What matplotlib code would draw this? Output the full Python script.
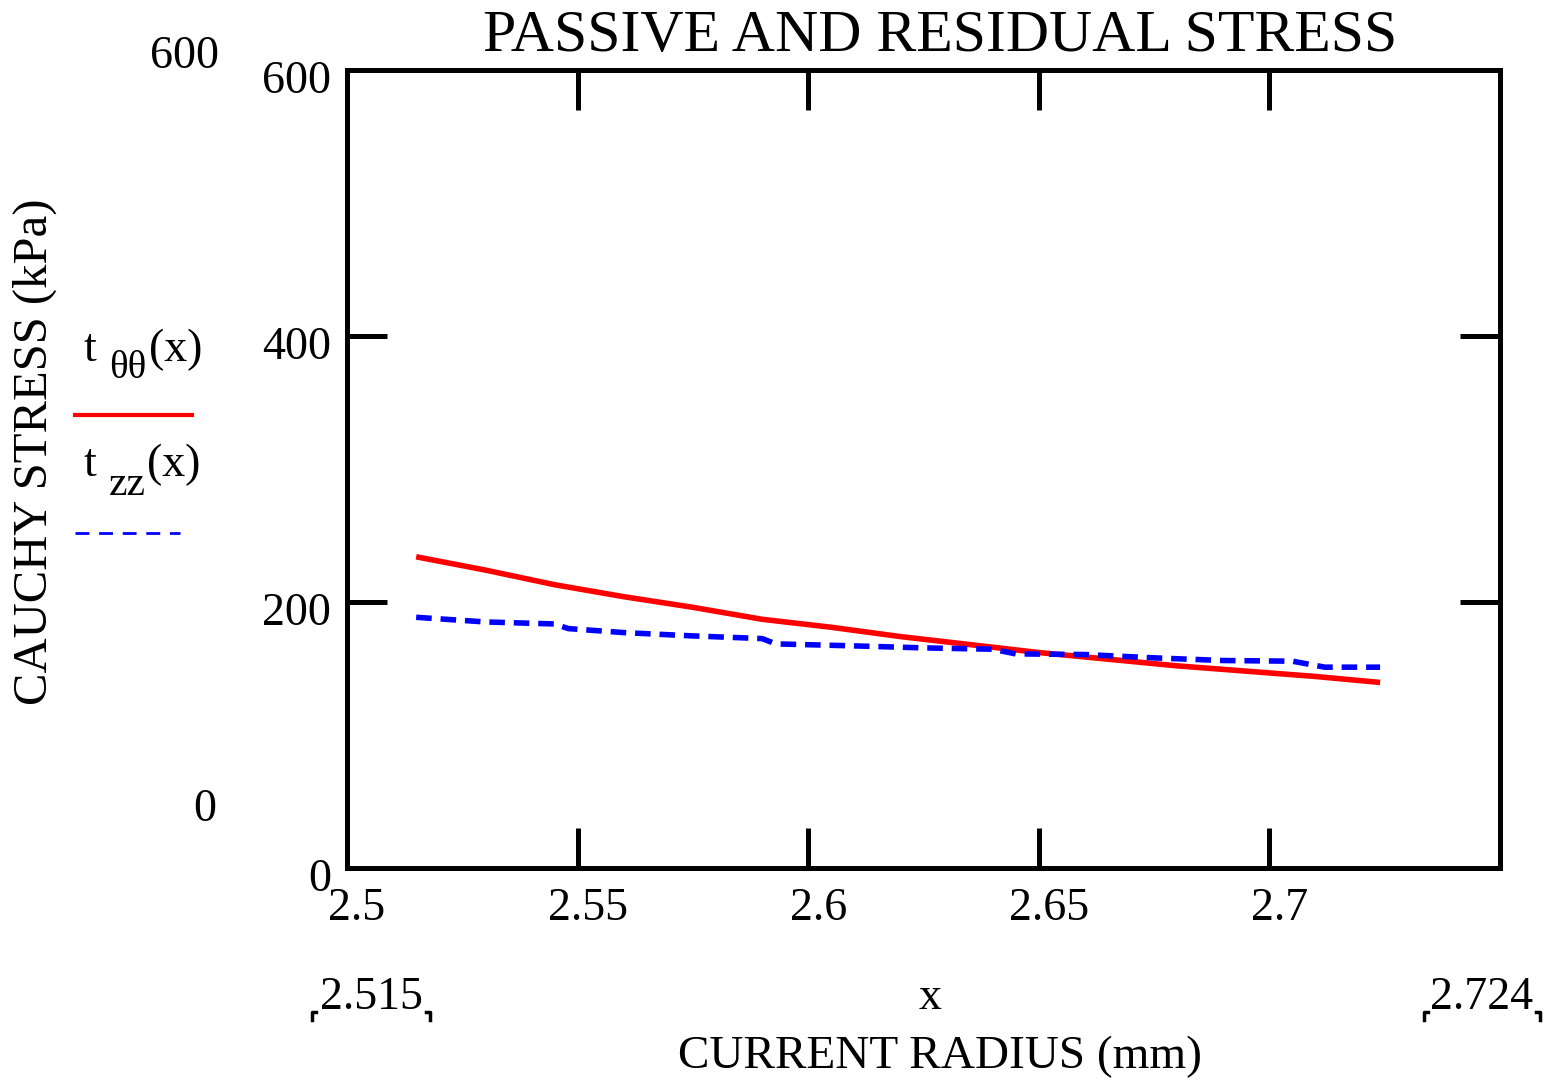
import matplotlib
matplotlib.use("Agg")
import matplotlib.pyplot as plt
from matplotlib.lines import Line2D
from matplotlib.transforms import ScaledTranslation

plt.rcParams['font.family'] = ['Liberation Serif', 'DejaVu Serif']

# ---- data ----
x_theta = [2.515, 2.53, 2.545, 2.56, 2.575, 2.59, 2.605, 2.62, 2.635, 2.65,
           2.665, 2.68, 2.695, 2.71, 2.724]
t_theta = [234, 224, 213, 204, 196, 187, 181, 174, 168, 162,
           157, 152, 148, 144, 139.5]

x_zz = [2.515, 2.53, 2.545, 2.548, 2.56, 2.575, 2.59, 2.593, 2.61, 2.625,
        2.64, 2.645, 2.66, 2.675, 2.69, 2.705, 2.712, 2.724]
t_zz = [188.5, 185, 183.5, 180, 177, 174.5, 172.5, 168.5, 167, 165.5,
        164.5, 161, 160.5, 158, 156, 155.5, 151, 151]

xticks = [2.5, 2.55, 2.6, 2.65, 2.7]
xtick_labels = ['2.5', '2.55', '2.6', '2.65', '2.7']
yticks = [0, 200, 400, 600]
ytick_labels = ['0', '200', '400', '600']

W, H = 1550, 1083
fig = plt.figure(figsize=(W / 100, H / 100), dpi=100)
fx = lambda px: px / W
fy = lambda py: 1 - py / H

ax = fig.add_axes([fx(347), fy(868), (1500 - 347) / W, (868 - 70) / H])
ax.plot(x_theta, t_theta, color='#ff0000', lw=4.0, solid_capstyle='butt')
ax.plot(x_zz, t_zz, color='#0000ff', lw=4.0, linestyle=(0, (2.8, 1.6)))
ax.set_xlim(2.5, 2.75)
ax.set_ylim(0, 600)

for s in ax.spines.values():
    s.set_linewidth(3.6)
ax.set_xticks(xticks)
ax.set_xticklabels(xtick_labels)
ax.set_yticks(yticks)
ax.set_yticklabels(ytick_labels)
ax.tick_params(axis='both', direction='in', length=29, width=3.6,
               labelsize=33, pad=10, colors='black')
ax.tick_params(axis='x', top=True, pad=14)
ax.tick_params(axis='y', right=True)
for lab in ax.get_xticklabels():
    lab.set_transform(lab.get_transform() + ScaledTranslation(0.1, 0, fig.dpi_scale_trans))
for lab in ax.get_yticklabels():
    lab.set_transform(lab.get_transform() + ScaledTranslation(-0.02, -0.07, fig.dpi_scale_trans))

# ---- Mathcad-style annotations ----
fig.text(fx(940), fy(37), 'PASSIVE AND RESIDUAL STRESS', fontsize=43,
         ha='center', va='center')
fig.text(fx(35), fy(452), 'CAUCHY STRESS (kPa)', fontsize=35, rotation=90,
         ha='center', va='center')
fig.text(fx(940), fy(1057), 'CURRENT RADIUS (mm)', fontsize=34,
         ha='center', va='center')
fig.text(fx(185), fy(57), '600', fontsize=33, ha='center', va='center')
fig.text(fx(205), fy(810), '0', fontsize=33, ha='center', va='center')
fig.text(fx(371), fy(998), '2.515', fontsize=33, ha='center', va='center')
fig.text(fx(930), fy(998), 'x', fontsize=33, ha='center', va='center')
fig.text(fx(1482), fy(998), '2.724', fontsize=33, ha='center', va='center')

# small corner brackets around the limits
for xl, xr in [(312, 430), (1424, 1540)]:
    fig.add_artist(Line2D([fx(xl + 4), fx(xl), fx(xl)], [fy(1012), fy(1012), fy(1020)],
                          color='black', lw=2.5))
    fig.add_artist(Line2D([fx(xr - 4), fx(xr), fx(xr)], [fy(1012), fy(1012), fy(1020)],
                          color='black', lw=2.5))

# legend (Mathcad style: label above line)
fig.text(fx(84), fy(350), 't', fontsize=33, ha='left', va='center')
fig.text(fx(109), fy(368), 'θθ', fontsize=28, ha='left', va='center')
fig.text(fx(149), fy(350), '(x)', fontsize=33, ha='left', va='center')
fig.add_artist(Line2D([fx(75), fx(192)], [fy(415), fy(415)], color='#ff0000', lw=3.0))
fig.text(fx(84), fy(465), 't', fontsize=33, ha='left', va='center')
fig.text(fx(109), fy(485), 'zz', fontsize=30, ha='left', va='center')
fig.text(fx(147), fy(465), '(x)', fontsize=33, ha='left', va='center')
fig.add_artist(Line2D([fx(75), fx(180)], [fy(533), fy(533)], color='#0000ff', lw=2.0,
                      linestyle=(0, (5, 3.5))))

fig.savefig('out.png', dpi=100)
